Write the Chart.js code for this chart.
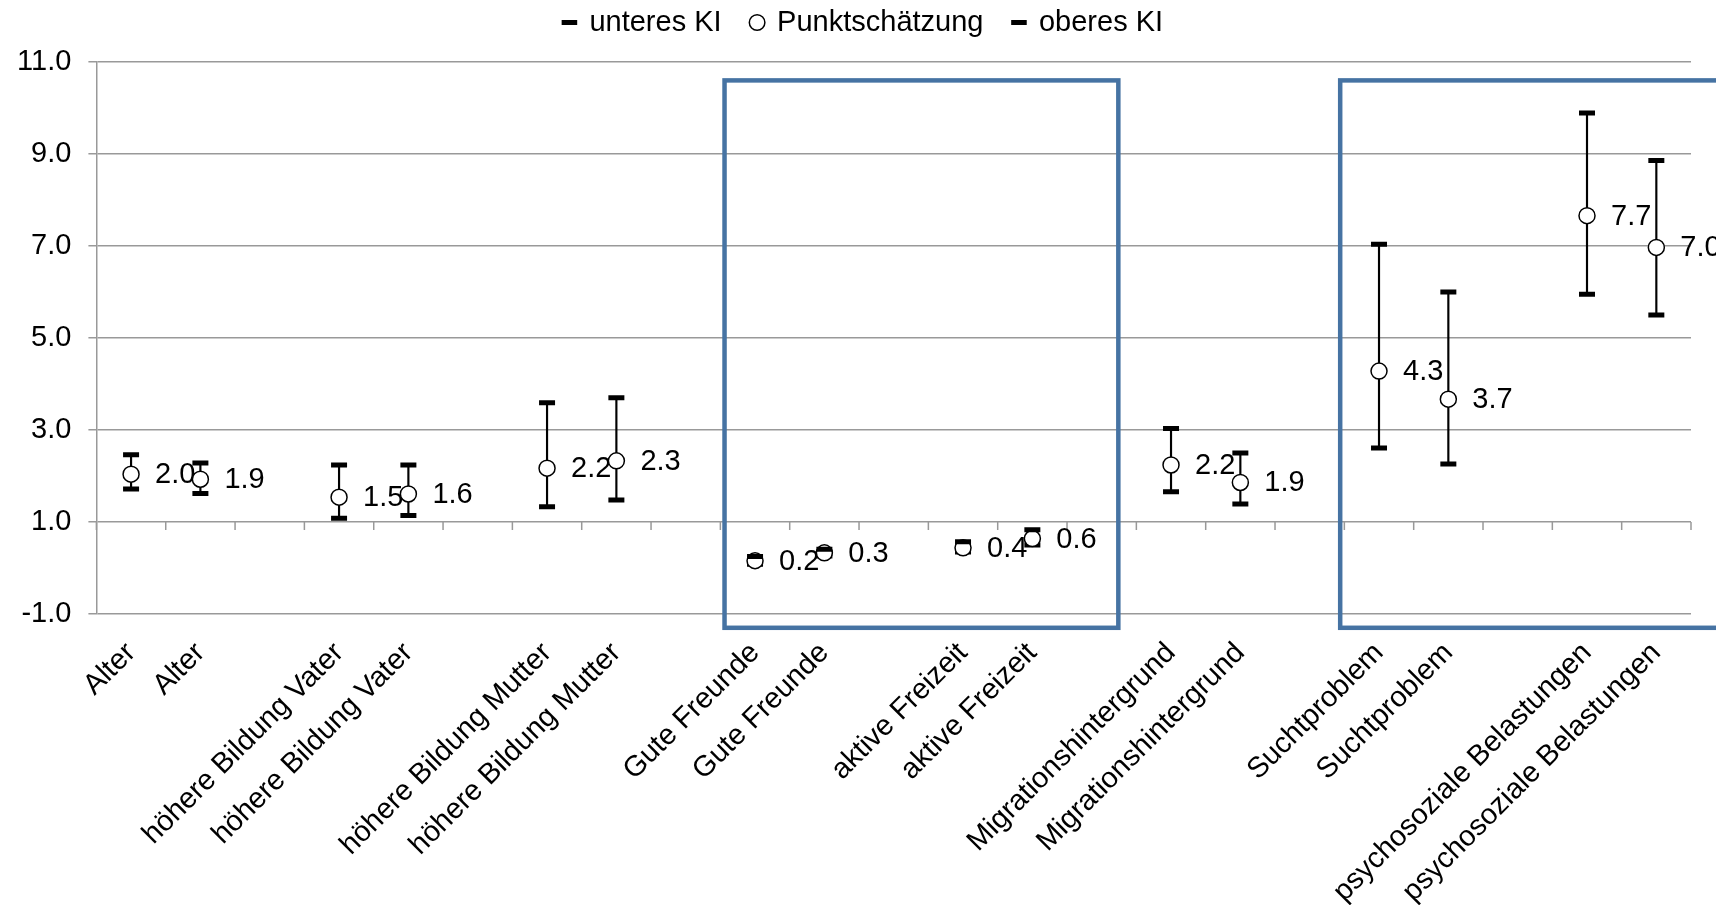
<!DOCTYPE html>
<html>
<head>
<meta charset="utf-8">
<script src="https://cdn.jsdelivr.net/npm/chart.js@4.4.1/dist/chart.umd.min.js"></script>
<style>
  body { margin: 0; background: #fff; }
</style>
</head>
<body>
<canvas id="myChart" width="1716" height="905"></canvas>
<script>
const ctx = document.getElementById('myChart');
const FONT = '"Liberation Sans", Arial, sans-serif'

// categories, '' = gap between the groups
var categories = ['Alter', 'Alter', '',
  'höhere Bildung Vater', 'höhere Bildung Vater', '',
  'höhere Bildung Mutter', 'höhere Bildung Mutter', '',
  'Gute Freunde', 'Gute Freunde', '',
  'aktive Freizeit', 'aktive Freizeit', '',
  'Migrationshintergrund', 'Migrationshintergrund', '',
  'Suchtproblem', 'Suchtproblem', '',
  'psychosoziale Belastungen', 'psychosoziale Belastungen']

var lower = [1.72, 1.62, null, 1.08, 1.14, null, 1.33, 1.48, null, 0.08, 0.26, null,
  0.35, 0.50, null, 1.66, 1.39, null, 2.61, 2.26, null, 5.95, 5.50]
var point = [2.04, 1.93, null, 1.54, 1.61, null, 2.17, 2.33, null, 0.16, 0.33, null,
  0.44, 0.64, null, 2.24, 1.86, null, 4.28, 3.67, null, 7.66, 6.97]
var upper = [2.46, 2.28, null, 2.24, 2.24, null, 3.59, 3.70, null, 0.25, 0.41, null,
  0.57, 0.83, null, 3.03, 2.50, null, 7.04, 6.00, null, 9.89, 8.86]

var yTicks = [-1, 1, 3, 5, 7, 9, 11]

// highlight boxes (category index / value units)
var boxFrom = [8.56, 17.44]
var boxTo = [14.24, 23.0]
var boxBottom = [-1.3, -1.3]
var boxTop = [10.6, 10.6]

var errbar = lower.map(function (v, i) {
  return v == null ? null : [v, upper[i]]
})

const extras = {
  id: 'extras',
  beforeInit(chart) {
    // make the legend taller so the plot starts where it does in the original
    const fit = chart.legend.fit
    chart.legend.fit = function () {
      fit.bind(chart.legend)()
      this.height = 84
    }
  },
  afterLayout(chart) {
    // legend sits a bit right of the canvas centre in the original
    chart.legend.left += 36
  },
  beforeDatasetsDraw(chart) {
    const c = chart.ctx
    const x = chart.scales.x
    const y = chart.scales.y
    // small tick marks on the category axis at 1.0
    c.save()
    c.strokeStyle = '#999'
    c.lineWidth = 1.5
    const y1 = y.getPixelForValue(1)
    for (let i = 0; i <= categories.length; i++) {
      const px = x.getPixelForValue(i - 0.5)
      c.beginPath()
      c.moveTo(px, y1)
      c.lineTo(px, y1 + 8)
      c.stroke()
    }
    // value labels
    const meta = chart.getDatasetMeta(1)
    c.font = '29px ' + FONT
    c.fillStyle = '#000'
    c.textAlign = 'left'
    c.textBaseline = 'middle'
    meta.data.forEach(function (pt, i) {
      if (point[i] == null) return
      c.fillText(point[i].toFixed(1), pt.x + 24, pt.y + 1)
    })
    c.restore()
  },
  afterDraw(chart) {
    const c = chart.ctx
    const x = chart.scales.x
    const y = chart.scales.y
    c.save()
    c.strokeStyle = '#4673a3'
    c.lineWidth = 4.5
    for (let i = 0; i < boxFrom.length; i++) {
      const x0 = x.getPixelForValue(boxFrom[i])
      const x1 = x.getPixelForValue(boxTo[i])
      const y0 = y.getPixelForValue(boxTop[i])
      const y1 = y.getPixelForValue(boxBottom[i])
      c.strokeRect(x0, y0, x1 - x0, y1 - y0)
    }
    c.restore()
  }
}

var webchart = new Chart(ctx, {
  type: 'line',
  data: {
    labels: categories,
    datasets: [{
      label: 'unteres KI',
      data: lower,
      showLine: false,
      pointStyle: 'line',
      pointRadius: 8,
      pointBorderWidth: 5,
      pointBorderColor: '#000',
      pointBackgroundColor: '#000',
      order: 3
    }, {
      label: 'Punktschätzung',
      data: point,
      showLine: false,
      pointStyle: 'circle',
      pointRadius: 8,
      pointBorderWidth: 1.5,
      pointBorderColor: '#000',
      pointBackgroundColor: '#fff',
      order: 2
    }, {
      label: 'oberes KI',
      data: upper,
      showLine: false,
      pointStyle: 'line',
      pointRadius: 8,
      pointBorderWidth: 5,
      pointBorderColor: '#000',
      pointBackgroundColor: '#000',
      order: 1
    }, {
      type: 'bar',
      label: 'KI',
      data: errbar,
      backgroundColor: '#000',
      barThickness: 1.5,
      order: 4
    }]
  },
  options: {
    responsive: false,
    animation: false,
    events: [],
    layout: {
      padding: { top: -22, right: 25, left: 0, bottom: 0 }
    },
    plugins: {
      legend: {
        position: 'top',
        labels: {
          usePointStyle: true,
          boxWidth: 11,
          boxHeight: 11,
          padding: 30,
          color: '#000',
          font: { family: FONT, size: 29 },
          filter: function (item) { return item.datasetIndex !== 3 },
          sort: function (a, b) { return a.datasetIndex - b.datasetIndex }
        }
      },
      tooltip: { enabled: false }
    },
    scales: {
      x: {
        type: 'category',
        offset: true,
        grid: { display: false },
        border: { display: false },
        ticks: {
          autoSkip: false,
          minRotation: 45,
          maxRotation: 45,
          padding: 14,
          color: '#000',
          font: { family: FONT, size: 29 }
        },
        afterFit: function (scale) { scale.height = 291 }
      },
      y: {
        min: -1,
        max: 11,
        afterBuildTicks: function (scale) {
          scale.ticks = yTicks.map(function (v) { return { value: v } })
        },
        grid: { color: '#999', lineWidth: 1.5, tickLength: 8 },
        border: { color: '#999', width: 1.5 },
        ticks: {
          padding: 17,
          color: '#000',
          font: { family: FONT, size: 29 },
          callback: function (v) { return v.toFixed(1) }
        },
        afterFit: function (scale) { scale.width = 96.4 }
      }
    }
  },
  plugins: [extras]
})
</script>
</body>
</html>
